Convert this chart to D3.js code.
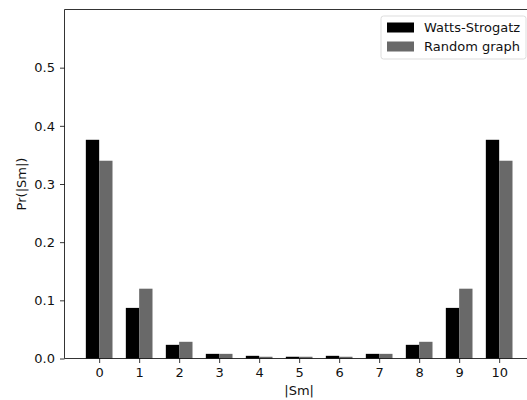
<!DOCTYPE html>
<html>
<head>
<meta charset="utf-8">
<script src="https://cdn.jsdelivr.net/npm/d3@7"></script>
<style>
  body { margin: 0; background: #fff; }
  svg { display: block; font-family: "DejaVu Sans", sans-serif; }
</style>
</head>
<body>
<svg id="mainsvg" width="527" height="400"></svg>
<script>
// |Sm| values and the two distributions
const sizes = [0, 1, 2, 3, 4, 5, 6, 7, 8, 9, 10];
const wattsStrogatz = [0.376, 0.087, 0.0235, 0.008, 0.0046, 0.003, 0.0046, 0.008, 0.0235, 0.087, 0.376];
const randomGraph = [0.34, 0.12, 0.0287, 0.008, 0.003, 0.003, 0.003, 0.008, 0.0287, 0.12, 0.34];
const yTicks = [0.0, 0.1, 0.2, 0.3, 0.4, 0.5];
const seriesNames = ["Watts-Strogatz", "Random graph"];
const seriesColors = ["#000000", "#696969"];

const svg = d3.select("#mainsvg");
const plotLeft = 64.5, plotTop = 9.5, plotBottom = 358.5;
const barW = 1 / 3;
const fontSize = "13px";

// matplotlib-style margins: 5% beyond the outer bar edges
const xMin = -barW, xMax = 10 + barW, pad = (xMax - xMin) * 0.05;
const x = d3.scaleLinear()
  .domain([xMin - pad, xMax + pad])
  .range([plotLeft, plotLeft + 40 * (xMax - xMin + 2 * pad)]);
const y = d3.scaleLinear().domain([0, 0.6]).range([plotBottom, plotTop]);

const g = svg.append("g");

// bars
[wattsStrogatz, randomGraph].forEach((vals, s) => {
  g.selectAll(".bar" + s)
    .data(sizes)
    .enter()
    .append("rect")
    .attr("x", d => x(d - barW + s * barW))
    .attr("width", x(barW) - x(0))
    .attr("y", (d, i) => y(vals[i]))
    .attr("height", (d, i) => y(0) - y(vals[i]))
    .attr("fill", seriesColors[s]);
});

// axes
const xAxis = d3.axisBottom(x).tickValues(sizes).tickFormat(d3.format("d")).tickSize(4.5).tickPadding(5);
const yAxis = d3.axisLeft(y).tickValues(yTicks).tickFormat(d3.format(".1f")).tickSize(4.5).tickPadding(5);

const gx = svg.append("g").attr("transform", `translate(0,${plotBottom})`).call(xAxis);
const gy = svg.append("g").attr("transform", `translate(${plotLeft},0)`).call(yAxis);
[gx, gy].forEach(a => {
  a.select(".domain").remove();
  a.selectAll("line").attr("stroke", "#000").attr("stroke-width", 0.8);
  a.selectAll("text").attr("fill", "#111").style("font-size", fontSize).style("font-family", "DejaVu Sans");
});

// spines (right one falls outside the cropped picture)
const xr = x.range();
svg.append("line").attr("x1", plotLeft).attr("x2", xr[1]).attr("y1", plotTop).attr("y2", plotTop)
  .attr("stroke", "#000").attr("stroke-width", 0.8);
svg.append("line").attr("x1", plotLeft).attr("x2", xr[1]).attr("y1", plotBottom).attr("y2", plotBottom)
  .attr("stroke", "#000").attr("stroke-width", 0.8);
svg.append("line").attr("x1", plotLeft).attr("x2", plotLeft).attr("y1", plotTop).attr("y2", plotBottom)
  .attr("stroke", "#000").attr("stroke-width", 0.8);

// axis labels
svg.append("text")
  .attr("x", (xr[0] + xr[1]) / 2).attr("y", 395)
  .attr("text-anchor", "middle").style("font-size", fontSize).attr("fill", "#111")
  .text("|Sm|");
svg.append("text")
  .attr("transform", `translate(26,${(plotTop + plotBottom) / 2}) rotate(-90)`)
  .attr("text-anchor", "middle").style("font-size", fontSize).attr("fill", "#111")
  .text("Pr(|Sm|)");

// legend
const lg = svg.append("g").attr("transform", "translate(381,16)");
lg.append("rect").attr("width", 145).attr("height", 43).attr("rx", 2.5)
  .attr("fill", "#fff").attr("fill-opacity", 0.8).attr("stroke", "#d4d4d4").attr("stroke-width", 0.8);
seriesNames.forEach((name, i) => {
  lg.append("rect").attr("x", 6).attr("y", 6.5 + i * 19).attr("width", 27).attr("height", 10)
    .attr("fill", seriesColors[i]);
  lg.append("text").attr("x", 43).attr("y", 16 + i * 19)
    .style("font-size", fontSize).attr("fill", "#111").text(name);
});
</script>
</body>
</html>
